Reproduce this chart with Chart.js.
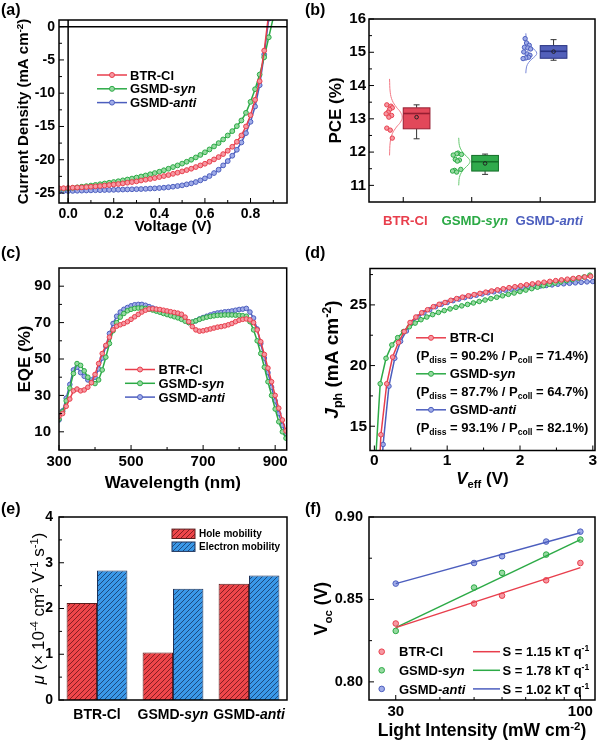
<!DOCTYPE html>
<html>
<head>
<meta charset="utf-8">
<script src="https://cdn.jsdelivr.net/npm/chart.js@4.4.0/dist/chart.umd.min.js"></script>
<style>
body { margin: 0; background: #fff; }
#fig { position: relative; width: 600px; height: 741px; overflow: hidden; background: #fff; }
#fig canvas { position: absolute; }
.lab { position: absolute; font: bold 16px "Liberation Sans", Arial, sans-serif; line-height: 16px; color: #000; }
</style>
</head>
<body>
<div id="fig">
<canvas id="cA" width="300" height="247" style="left:0;top:0"></canvas>
<canvas id="cB" width="300" height="247" style="left:300px;top:0"></canvas>
<canvas id="cC" width="300" height="247" style="left:0;top:247px"></canvas>
<canvas id="cD" width="300" height="247" style="left:300px;top:247px"></canvas>
<canvas id="cE" width="300" height="247" style="left:0;top:494px"></canvas>
<canvas id="cF" width="300" height="247" style="left:300px;top:494px"></canvas>
<div class="lab" style="left:1px;top:2px">(a)</div>
<div class="lab" style="left:305px;top:2px">(b)</div>
<div class="lab" style="left:1px;top:245px">(c)</div>
<div class="lab" style="left:305px;top:245px">(d)</div>
<div class="lab" style="left:1px;top:501px">(e)</div>
<div class="lab" style="left:305px;top:501px">(f)</div>
</div>
<script>
// ---------- (a) curvas J-V ----------
var voltaje = [-0.04,-0.02,0,0.02,0.04,0.06,0.08,0.1,0.12,0.14,0.16,0.18,0.2,0.22,0.24,0.26,0.28,0.3,0.32,0.34,0.36,0.38,0.4,0.42,0.44,0.46,0.48,0.5,0.52,0.54,0.56,0.58,0.6,0.62,0.64,0.66,0.68,0.7,0.72,0.74,0.76,0.78,0.8,0.82,0.84,0.86,0.88,0.9];
var jBTR = [-24.3,-24.28,-24.25,-24.2,-24.18,-24.15,-24.1,-24.05,-24.0,-23.95,-23.88,-23.8,-23.72,-23.65,-23.55,-23.45,-23.35,-23.25,-23.12,-23.0,-22.88,-22.75,-22.6,-22.45,-22.3,-22.12,-21.95,-21.75,-21.55,-21.35,-21.1,-20.85,-20.6,-20.3,-19.95,-19.6,-19.15,-18.65,-18.05,-17.3,-16.35,-15.0,-13.3,-11.0,-8.2,-3.6,2.0];
var jSyn = [-24.4,-24.35,-24.3,-24.22,-24.15,-24.05,-23.97,-23.88,-23.78,-23.68,-23.57,-23.46,-23.35,-23.23,-23.1,-22.97,-22.83,-22.68,-22.52,-22.36,-22.18,-22.0,-21.8,-21.58,-21.35,-21.1,-20.85,-20.58,-20.3,-20.0,-19.65,-19.28,-18.88,-18.45,-18.0,-17.5,-16.95,-16.35,-15.7,-14.95,-14.1,-12.95,-11.3,-9.4,-7.2,-4.6,-1.6,1.4];
var jAnti = [-24.75,-24.72,-24.7,-24.68,-24.66,-24.64,-24.62,-24.6,-24.58,-24.57,-24.55,-24.53,-24.52,-24.5,-24.48,-24.46,-24.44,-24.42,-24.4,-24.37,-24.33,-24.3,-24.25,-24.2,-24.13,-24.05,-23.95,-23.85,-23.7,-23.55,-23.35,-23.1,-22.8,-22.45,-22.0,-21.5,-20.85,-20.2,-19.4,-18.5,-17.4,-16.0,-14.3,-12.0,-8.8,-4.2,1.2];
var ticksV = [0, 0.2, 0.4, 0.6, 0.8];
var ticksVmen = [0.1, 0.3, 0.5, 0.7, 0.9];
var ticksJ = [-25, -20, -15, -10, -5, 0];
var ticksJmen = [-22.5, -17.5, -12.5, -7.5, -2.5];

// ---------- (b) PCE ----------
var categorias = [1, 2, 3];
var pceBTRx = [0.76,0.82,0.84,0.8,0.78,0.75,0.83,0.79,0.76,0.81,0.84];
var pceBTR = [13.42,13.38,13.33,13.28,13.2,13.15,13.1,13.05,12.72,12.66,12.42];
var pceSynx = [1.8,1.78,1.85,1.73,1.76,1.82,1.79,1.84,1.75,1.72,1.78];
var pceSyn = [11.97,11.95,11.93,11.91,11.78,11.76,11.73,11.48,11.45,11.43,11.4];
var pceAntix = [2.78,2.8,2.84,2.77,2.82,2.86,2.76,2.81,2.85,2.83,2.79,2.75];
var pceAnti = [15.41,15.28,15.21,15.15,15.13,15.1,15.01,14.95,14.91,14.85,14.83,14.81];
var curvaBTRx = [0.8,0.81,0.84,0.9,0.96,0.985,0.96,0.9,0.84,0.81,0.8];
var curvaBTR = [14.2,13.8,13.55,13.35,13.2,13.05,12.9,12.75,12.55,12.3,11.9];
var curvaSynx = [1.81,1.82,1.85,1.9,1.95,1.975,1.95,1.9,1.85,1.82,1.81];
var curvaSyn = [12.43,12.2,12.05,11.92,11.82,11.72,11.62,11.52,11.39,11.24,11.0];
var curvaAntix = [2.79,2.8,2.83,2.88,2.93,2.95,2.93,2.88,2.83,2.8,2.79];
var curvaAnti = [15.57,15.38,15.25,15.14,15.05,14.97,14.89,14.8,14.69,14.56,14.37];
var cajaQ1 = [12.7, 11.43, 14.82];
var cajaQ3 = [13.33, 11.9, 15.2];
var cajaMediana = [13.16, 11.71, 15.03];
var cajaMedia = [13.05, 11.66, 15.02];
var cajaMin = [12.4, 11.33, 14.76];
var cajaMax = [13.42, 11.94, 15.38];
var ticksPCE = [11, 12, 13, 14, 15, 16];
var ticksPCEmen = [11.5, 12.5, 13.5, 14.5, 15.5];

// ---------- (c) EQE ----------
var longOnda = [300,310,320,330,340,350,360,370,380,390,400,410,420,430,440,450,460,470,480,490,500,510,520,530,540,550,560,570,580,590,600,610,620,630,640,650,660,670,680,690,700,710,720,730,740,750,760,770,780,790,800,810,820,830,840,850,860,870,880,890,900,910,920,930];
var eqeBTR = [18.5,20,24,28,32.5,33.5,32.5,33,34.5,37,
  41.5,47.5,53,57.5,62,66,68,68.8,69.5,70.5,
  71.8,73.2,74.5,75.8,76.8,77.5,77.6,77.4,77.2,76.8,
  76.4,76,75.6,75.2,74.6,73,70.5,67.8,66,65.3,
  65.5,66,66.5,67,67.5,67.8,68.2,68.8,69.5,70.5,
  71.3,71.8,72,71.5,70,66,59.5,52.5,45,37.5,
  30,23,16.5,10.5];
var eqeSyn = [17,21,27,34,42,47.5,46.5,43.5,40,37,
  36.5,38.5,44,51,58.5,65.5,70,73,75,76.5,
  77.3,77.8,78,78,77.8,77.4,76.9,76.3,75.7,75,
  74.4,73.8,73.2,72.6,71.8,70.8,70,70.3,71,71.8,
  72.5,73,73.4,73.7,74,74.1,74.2,74.2,74.2,74.1,
  74,73.8,73.5,70.5,66,60,53,45.5,37.5,30,
  22.5,15.5,10,6.5];
var eqeAnti = [16.5,21.5,28.5,36,44,45.5,42.5,40.5,38.5,38.5,
  40,44.5,50.5,57,64,69.5,73.5,75.8,77.3,78.3,
  79.2,79.8,80,80,79.5,78.8,78,77.3,76.6,75.9,
  75.2,74.5,73.8,73,72.2,71.2,70,70.2,71,72,
  72.8,73.5,74.2,74.8,75.3,75.6,75.9,76.1,76.4,76.8,
  77.2,77.4,77.8,75.8,72.5,66.5,58.5,50.5,42.5,34.5,
  27,20,13.5,9];
var ticksOnda = [300, 500, 700, 900];
var ticksOndaMen = [400, 600, 800];
var ticksEQE = [10, 30, 50, 70, 90];
var ticksEQEmen = [20, 40, 60, 80];

// ---------- (d) Jph - Veff ----------
var vefBTR = [0.06,0.09,0.17,0.25,0.33,0.41,0.49,0.57,0.65,0.73,0.81,0.89,0.97,1.05,1.13,1.21,1.29,1.37,1.45,1.53,1.61,1.69,1.77,1.85,1.93,2.01,2.09,2.17,2.25,2.33,2.41,2.49,2.57,2.65,2.73,2.81,2.89,2.97];
var jphBTR = [10.5,14.3,18.5,20.7,21.9,22.8,23.55,24.0,24.35,24.6,24.85,25.05,25.2,25.38,25.52,25.64,25.75,25.85,25.95,26.05,26.15,26.24,26.33,26.42,26.5,26.58,26.66,26.73,26.8,26.87,26.94,27.0,27.06,27.12,27.18,27.24,27.3,27.36];
var vefSyn = [0.01,0.08,0.16,0.24,0.32,0.4,0.48,0.56,0.64,0.72,0.8,0.88,0.96,1.04,1.12,1.2,1.28,1.36,1.44,1.52,1.6,1.68,1.76,1.84,1.92,2.0,2.08,2.16,2.24,2.32,2.4,2.48,2.56,2.64,2.72,2.8,2.88,2.96];
var jphSyn = [11.5,18.5,20.6,21.7,22.3,22.8,23.2,23.5,23.78,24.0,24.2,24.38,24.53,24.67,24.8,24.92,25.04,25.16,25.28,25.4,25.52,25.63,25.75,25.87,25.98,26.1,26.22,26.34,26.46,26.58,26.7,26.8,26.9,27.0,27.1,27.2,27.3,27.45];
var vefAnti = [0.08,0.12,0.2,0.28,0.36,0.44,0.52,0.6,0.68,0.76,0.84,0.92,1.0,1.08,1.16,1.24,1.32,1.4,1.48,1.56,1.64,1.72,1.8,1.88,1.96,2.04,2.12,2.2,2.28,2.36,2.44,2.52,2.6,2.68,2.76,2.84,2.92,3.0];
var jphAnti = [9,13.5,18.3,20.6,22.0,22.85,23.55,24.0,24.35,24.6,24.85,25.05,25.2,25.35,25.48,25.6,25.7,25.8,25.9,26.0,26.08,26.15,26.22,26.3,26.37,26.43,26.48,26.52,26.56,26.6,26.65,26.7,26.74,26.78,26.82,26.86,26.9,26.93];
var ticksVef = [0, 1, 2, 3];
var ticksVefMen = [0.5, 1.5, 2.5];
var ticksJph = [15, 20, 25];
var ticksJphMen = [17.5, 22.5, 27.5];

// ---------- (e) movilidades ----------
var muestras = ['BTR-Cl', 'GSMD-syn', 'GSMD-anti'];
var movHuecos = [2.12, 1.04, 2.54];
var movElectrones = [2.83, 2.43, 2.72];
var ticksMov = [0, 1, 2, 3, 4];
var ticksMovMen = [0.5, 1.5, 2.5, 3.5];

// ---------- (f) Voc - intensidad ----------
var intensidad = [30, 50, 60, 80, 100];
var vocBTR = [0.8354, 0.8475, 0.8523, 0.8616, 0.8721];
var vocSyn = [0.8309, 0.8572, 0.8661, 0.8772, 0.8863];
var vocAnti = [0.8596, 0.8721, 0.8762, 0.8851, 0.8911];
var ajusteX = [30, 100];
var ajusteBTR = [0.8329, 0.8693];
var ajusteSyn = [0.8329, 0.8863];
var ajusteAnti = [0.8596, 0.8905];
var pendientes = ['1.15', '1.78', '1.02'];
var ticksInt = [30, 100];
var ticksIntMen = [40, 50, 60, 70, 80, 90];
var ticksVoc = [0.8, 0.85, 0.9];
var ticksVocMen = [0.825, 0.875];

// ---------- estilos ----------
var FUENTE = '"Liberation Sans", Arial, Helvetica, sans-serif';
var ROJO = 'rgb(232,62,76)', VERDE = 'rgb(44,170,70)', AZUL = 'rgb(76,94,190)';
var ROJO_C = 'rgb(246,152,162)', VERDE_C = 'rgb(150,218,160)', AZUL_C = 'rgb(160,172,232)';
Chart.defaults.font.family = FUENTE;
Chart.defaults.color = '#000';

function T(t, o) { var p = { t: t }; if (o) for (var k in o) p[k] = o[k]; return p; }
var SUP = { sup: true }, SUB = { sub: true }, IT = { it: true };

function fuente(p, size) {
  var s = (p.sup || p.sub) ? size * 0.66 : size;
  return (p.it ? 'italic ' : '') + (p.w || 'bold') + ' ' + s + 'px ' + FUENTE;
}

/* dibuja texto con partes en cursiva, subindice o superindice */
function textoRico(ctx, partes, x, y, size, alin, rot, color) {
  ctx.save();
  ctx.translate(x, y);
  if (rot) ctx.rotate(-Math.PI / 2);
  var w = 0;
  partes.forEach(function (p) { ctx.font = fuente(p, size); w += ctx.measureText(p.t).width; });
  var cx = alin === 'left' ? 0 : -w / 2;
  ctx.textBaseline = 'alphabetic';
  ctx.textAlign = 'left';
  partes.forEach(function (p) {
    ctx.font = fuente(p, size);
    ctx.fillStyle = p.c || color || '#000';
    var dy = p.sup ? -size * 0.38 : (p.sub ? size * 0.24 : 0);
    ctx.fillText(p.t, cx, size * 0.36 + dy);
    cx += ctx.measureText(p.t).width;
  });
  ctx.restore();
}

function puntos(xs, ys) { return ys.map(function (y, i) { return { x: xs[i], y: y }; }); }

function serie(xs, ys, col, colC, r, linea) {
  return {
    data: puntos(xs, ys), showLine: linea !== false,
    borderColor: col, backgroundColor: colC, borderWidth: 1.5,
    pointRadius: r, pointBorderWidth: 1, pointBorderColor: col, pointBackgroundColor: colC,
    tension: 0
  };
}

function escala(o) {
  return {
    type: o.type || 'linear',
    min: o.min, max: o.max,
    offset: !!o.offset,
    grid: { display: false, drawTicks: false },
    border: { display: false },
    ticks: {
      display: o.etiquetas !== false,
      padding: o.pad || 0,
      color: '#000',
      font: { family: FUENTE, size: o.size || 14, weight: 'bold' },
      maxRotation: 0, autoSkip: false,
      callback: o.fmt || function (v) { return String(v); }
    },
    afterBuildTicks: function (s) {
      if (o.valores) s.ticks = o.valores.map(function (v) { return { value: v }; });
    },
    afterFit: function (s) {
      if (s.isHorizontal()) s.height = o.tam; else s.width = o.tam;
      s.paddingLeft = 0; s.paddingRight = 0; s.paddingTop = 0; s.paddingBottom = 0;
    }
  };
}

function base(pad, escalas) {
  return {
    responsive: false, animation: false, devicePixelRatio: 1, events: [],
    layout: { padding: { top: pad[0], right: pad[1], left: 0, bottom: 0 } },
    plugins: { legend: { display: false }, tooltip: { enabled: false } },
    scales: escalas
  };
}

/* marco del grafico con marcas hacia dentro */
function marco(cfg) {
  return {
    id: 'marco',
    afterDatasetsDraw: function (chart) {
      var ctx = chart.ctx, a = chart.chartArea, sx = chart.scales.x, sy = chart.scales.y;
      ctx.save();
      ctx.strokeStyle = '#000';
      ctx.lineWidth = 1;
      ctx.beginPath();
      function mx(vals, l) { (vals || []).forEach(function (v) { var p = sx.getPixelForValue(v); ctx.moveTo(p, a.bottom); ctx.lineTo(p, a.bottom - l); }); }
      function my(vals, l) { (vals || []).forEach(function (v) { var p = sy.getPixelForValue(v); ctx.moveTo(a.left, p); ctx.lineTo(a.left + l, p); }); }
      mx(cfg.xMay, 5); mx(cfg.xMen, 3); my(cfg.yMay, 5); my(cfg.yMen, 3);
      ctx.stroke();
      if (cfg.ceros) {
        ctx.lineWidth = 1.5;
        ctx.beginPath();
        var px = sx.getPixelForValue(0), py = sy.getPixelForValue(0);
        ctx.moveTo(px, a.top); ctx.lineTo(px, a.bottom);
        ctx.moveTo(a.left, py); ctx.lineTo(a.right, py);
        ctx.stroke();
      }
      ctx.lineWidth = 1.5;
      ctx.strokeRect(a.left, a.top, a.right - a.left, a.bottom - a.top);
      ctx.restore();
    }
  };
}

function titulos(cfg) {
  return {
    id: 'titulos',
    afterDraw: function (chart) {
      var ctx = chart.ctx, a = chart.chartArea;
      if (cfg.x) textoRico(ctx, cfg.x, (a.left + a.right) / 2, cfg.xPos, cfg.xTam, 'center', false);
      if (cfg.y) textoRico(ctx, cfg.y, cfg.yPos, (a.top + a.bottom) / 2, cfg.yTam, 'center', true);
    }
  };
}

function muestraLinea(ctx, x0, x1, y, col, colC, conPunto) {
  ctx.save();
  ctx.strokeStyle = col; ctx.lineWidth = 1.5;
  ctx.beginPath(); ctx.moveTo(x0, y); ctx.lineTo(x1, y); ctx.stroke();
  if (conPunto) {
    ctx.beginPath(); ctx.arc((x0 + x1) / 2, y, 2.5, 0, Math.PI * 2);
    ctx.fillStyle = colC; ctx.fill(); ctx.lineWidth = 1; ctx.stroke();
  }
  ctx.restore();
}

var nombresRico = [[T('BTR-Cl')], [T('GSMD-'), T('syn', IT)], [T('GSMD-'), T('anti', IT)]];
var colores = [[ROJO, ROJO_C], [VERDE, VERDE_C], [AZUL, AZUL_C]];

// ---------- (a) ----------
new Chart(document.getElementById('cA'), {
  type: 'scatter',
  data: { datasets: [
    serie(voltaje, jBTR, ROJO, ROJO_C, 2.4),
    serie(voltaje, jSyn, VERDE, VERDE_C, 2.4),
    serie(voltaje, jAnti, AZUL, AZUL_C, 2.4)
  ] },
  options: base([20, 13], {
    x: escala({ min: -0.04, max: 0.96, valores: ticksV, fmt: function (v) { return v.toFixed(1); }, tam: 44, pad: 3, size: 14 }),
    y: escala({ min: -26.5, max: 1, valores: ticksJ, tam: 59, pad: 4, size: 14 })
  }),
  plugins: [
    marco({ xMay: ticksV, xMen: ticksVmen, yMay: ticksJ, yMen: ticksJmen, ceros: true }),
    titulos({ x: [T('Voltage (V)')], xPos: 226, xTam: 15, y: [T('Current Density (mA cm'), T('-2', SUP), T(')')], yPos: 23, yTam: 15 }),
    { id: 'leyA', afterDraw: function (c) {
      nombresRico.forEach(function (n, i) {
        var y = 75 + i * 13.8;
        muestraLinea(c.ctx, 97, 127, y, colores[i][0], colores[i][1], true);
        textoRico(c.ctx, n, 130, y, 13, 'left', false, '#000');
      });
    } }
  ]
});

// ---------- (b) ----------
var ctxB = document.getElementById('cB').getContext('2d');
function curva(xs, ys, col) {
  return { data: puntos(xs, ys), showLine: true, borderColor: col, borderWidth: 1, pointRadius: 0, tension: 0.4 };
}
var corrimientoNombre = [2, 3, 9];
new Chart(ctxB, {
  type: 'scatter',
  data: { datasets: [
    serie(pceBTRx, pceBTR, ROJO, ROJO_C, 2.2, false),
    serie(pceSynx, pceSyn, VERDE, VERDE_C, 2.2, false),
    serie(pceAntix, pceAnti, AZUL, AZUL_C, 2.2, false),
    curva(curvaBTRx, curvaBTR, 'rgb(242,120,132)'),
    curva(curvaSynx, curvaSyn, 'rgb(100,200,110)'),
    curva(curvaAntix, curvaAnti, 'rgb(120,135,215)')
  ] },
  options: base([19, 3], {
    x: escala({ min: 0.5, max: 3.8, valores: categorias, etiquetas: false, tam: 45 }),
    y: escala({ min: 10.5, max: 16, valores: ticksPCE, tam: 69, pad: 3, size: 15 })
  }),
  plugins: [
    { id: 'cajas', afterDatasetsDraw: function (c) {
      var ctx = c.ctx, sx = c.scales.x, sy = c.scales.y;
      var rellenos = ['rgb(226,72,90)', 'rgb(48,170,76)', 'rgb(82,96,186)'];
      var bordes = ['rgb(150,30,50)', 'rgb(20,110,40)', 'rgb(40,50,130)'];
      ctx.save();
      categorias.forEach(function (cat, i) {
        var x0 = sx.getPixelForValue(cat), x1 = sx.getPixelForValue(cat + 0.39), xm = (x0 + x1) / 2;
        var yq1 = sy.getPixelForValue(cajaQ1[i]), yq3 = sy.getPixelForValue(cajaQ3[i]);
        ctx.strokeStyle = '#333'; ctx.lineWidth = 1;
        ctx.beginPath();
        ctx.moveTo(xm, yq3); ctx.lineTo(xm, sy.getPixelForValue(cajaMax[i]));
        ctx.moveTo(xm - 3, sy.getPixelForValue(cajaMax[i])); ctx.lineTo(xm + 3, sy.getPixelForValue(cajaMax[i]));
        ctx.moveTo(xm, yq1); ctx.lineTo(xm, sy.getPixelForValue(cajaMin[i]));
        ctx.moveTo(xm - 3, sy.getPixelForValue(cajaMin[i])); ctx.lineTo(xm + 3, sy.getPixelForValue(cajaMin[i]));
        ctx.stroke();
        ctx.fillStyle = rellenos[i];
        ctx.fillRect(x0, yq3, x1 - x0, yq1 - yq3);
        ctx.strokeStyle = bordes[i];
        ctx.strokeRect(x0, yq3, x1 - x0, yq1 - yq3);
        ctx.lineWidth = 1.6;
        ctx.beginPath();
        var ym = sy.getPixelForValue(cajaMediana[i]);
        ctx.moveTo(x0, ym); ctx.lineTo(x1, ym); ctx.stroke();
        ctx.lineWidth = 1;
        ctx.beginPath(); ctx.arc(xm, sy.getPixelForValue(cajaMedia[i]), 1.8, 0, Math.PI * 2);
        ctx.strokeStyle = '#222'; ctx.stroke();
      });
      ctx.restore();
    } },
    marco({ xMay: categorias, yMay: ticksPCE, yMen: ticksPCEmen }),
    titulos({ y: [T('PCE (%)')], yPos: 35, yTam: 17 }),
    { id: 'nomB', afterDraw: function (c) {
      categorias.forEach(function (cat, i) {
        var partes = nombresRico[i].map(function (p) { return T(p.t, { it: p.it, c: colores[i][0] }); });
        textoRico(c.ctx, partes, c.scales.x.getPixelForValue(cat) + corrimientoNombre[i], 220, 13.2, 'center', false);
      });
    } }
  ]
});

// ---------- (c) ----------
new Chart(document.getElementById('cC'), {
  type: 'scatter',
  data: { datasets: [
    serie(longOnda, eqeBTR, ROJO, ROJO_C, 2.3),
    serie(longOnda, eqeSyn, VERDE, VERDE_C, 2.3),
    serie(longOnda, eqeAnti, AZUL, AZUL_C, 2.3)
  ] },
  options: base([21, 13.3], {
    x: escala({ min: 300, max: 932, valores: ticksOnda, tam: 44, pad: 3, size: 15 }),
    y: escala({ min: 0, max: 100, valores: ticksEQE, tam: 59, pad: 8, size: 15 })
  }),
  plugins: [
    marco({ xMay: ticksOnda, xMen: ticksOndaMen, yMay: ticksEQE, yMen: ticksEQEmen }),
    titulos({ x: [T('Wavelength (nm)')], xPos: 235, xTam: 17, y: [T('EQE (%)')], yPos: 24, yTam: 17 }),
    { id: 'leyC', afterDraw: function (c) {
      nombresRico.forEach(function (n, i) {
        var y = 122.5 + i * 13.8;
        muestraLinea(c.ctx, 125, 155, y, colores[i][0], colores[i][1], true);
        textoRico(c.ctx, n, 158.5, y, 13, 'left', false, '#000');
      });
    } }
  ]
});

// ---------- (d) ----------
var eficiencias = [['90.2%', '71.4%'], ['87.7%', '64.7%'], ['93.1%', '82.1%']];
new Chart(document.getElementById('cD'), {
  type: 'scatter',
  data: { datasets: [
    serie(vefBTR, jphBTR, ROJO, ROJO_C, 2.3),
    serie(vefSyn, jphSyn, VERDE, VERDE_C, 2.3),
    serie(vefAnti, jphAnti, AZUL, AZUL_C, 2.3)
  ] },
  options: base([21.5, 3], {
    x: escala({ min: -0.06, max: 3.03, valores: ticksVef, tam: 43.5, pad: 1, size: 15.5 }),
    y: escala({ min: 13, max: 28, valores: ticksJph, tam: 70, pad: 3, size: 15.5 })
  }),
  plugins: [
    marco({ xMay: ticksVef, xMen: ticksVefMen, yMay: ticksJph, yMen: ticksJphMen }),
    titulos({ x: [T('V', IT), T('eff', SUB), T(' (V)')], xPos: 231, xTam: 17,
      y: [T('J', IT), T('ph', SUB), T(' (mA cm'), T('-2', SUP), T(')')], yPos: 31, yTam: 19 }),
    { id: 'leyD', afterDraw: function (c) {
      nombresRico.forEach(function (n, i) {
        var y = 90.8 + i * 36;
        muestraLinea(c.ctx, 116, 146, y, colores[i][0], colores[i][1], true);
        textoRico(c.ctx, n, 149.7, y, 13, 'left', false, '#000');
        textoRico(c.ctx, [T('(P'), T('diss', SUB), T(' = ' + eficiencias[i][0] + ' / P'), T('coll', SUB), T(' = ' + eficiencias[i][1] + ')')],
          116.3, y + 17.5, 13, 'left', false, '#000');
      });
    } }
  ]
});

// ---------- (e) ----------
var ctxE = document.getElementById('cE').getContext('2d');
function trama(fondo, raya) {
  var t = document.createElement('canvas');
  t.width = 5; t.height = 5;
  var g = t.getContext('2d');
  g.fillStyle = fondo; g.fillRect(0, 0, 5, 5);
  g.strokeStyle = raya; g.lineWidth = 0.9;
  g.beginPath();
  g.moveTo(0, 5); g.lineTo(5, 0);
  g.moveTo(-1, 1); g.lineTo(1, -1);
  g.moveTo(4, 6); g.lineTo(6, 4);
  g.stroke();
  return ctxE.createPattern(t, 'repeat');
}
var tramaRoja = trama('rgb(238,70,74)', 'rgb(120,25,30)');
var tramaAzul = trama('rgb(58,152,232)', 'rgb(25,65,115)');
new Chart(ctxE, {
  type: 'bar',
  data: { labels: muestras, datasets: [
    { data: movHuecos, backgroundColor: tramaRoja, borderColor: 'rgb(90,30,30)', borderWidth: 1, categoryPercentage: 0.8, barPercentage: 1 },
    { data: movElectrones, backgroundColor: tramaAzul, borderColor: 'rgb(30,50,90)', borderWidth: 1, categoryPercentage: 0.8, barPercentage: 1 }
  ] },
  options: base([23, 13], {
    x: escala({ type: 'category', offset: true, etiquetas: false, tam: 41 }),
    y: escala({ min: 0, max: 4, valores: ticksMov, tam: 59, pad: 6, size: 14 })
  }),
  plugins: [
    marco({ yMay: ticksMov, yMen: ticksMovMen }),
    titulos({ y: [T('\u03bc', { it: true, w: 'normal' }), T(' (\u00d7 10', { w: 'normal' }), T('-4', { sup: true, w: 'normal' }),
      T(' cm', { w: 'normal' }), T('2', { sup: true, w: 'normal' }), T(' V', { w: 'normal' }), T('-1', { sup: true, w: 'normal' }),
      T(' s', { w: 'normal' }), T('-1', { sup: true, w: 'normal' }), T(')', { w: 'normal' })], yPos: 38, yTam: 17 }),
    { id: 'leyE', afterDraw: function (c) {
      var ctx = c.ctx;
      [[tramaRoja, 'rgb(90,30,30)', 'Hole mobility'], [tramaAzul, 'rgb(30,50,90)', 'Electron mobility']].forEach(function (f, i) {
        var y = 39.8 + i * 12.9;
        ctx.save();
        ctx.fillStyle = f[0]; ctx.fillRect(172, y - 4.7, 23, 9.4);
        ctx.strokeStyle = f[1]; ctx.lineWidth = 1; ctx.strokeRect(172, y - 4.7, 23, 9.4);
        ctx.restore();
        textoRico(ctx, [T(f[2])], 199, y, 10, 'left', false, '#000');
      });
      muestras.forEach(function (m, i) {
        textoRico(ctx, nombresRico[i], c.scales.x.getPixelForValue(i), 220, 14, 'center', false, '#000');
      });
    } }
  ]
});

// ---------- (f) ----------
function ajuste(ys, col) {
  return { data: puntos(ajusteX, ys), showLine: true, borderColor: col, borderWidth: 1.5, pointRadius: 0 };
}
new Chart(document.getElementById('cF'), {
  type: 'scatter',
  data: { datasets: [
    ajuste(ajusteBTR, ROJO), ajuste(ajusteSyn, VERDE), ajuste(ajusteAnti, AZUL),
    serie(intensidad, vocBTR, ROJO, ROJO_C, 2.8, false),
    serie(intensidad, vocSyn, VERDE, VERDE_C, 2.8, false),
    serie(intensidad, vocAnti, AZUL, AZUL_C, 2.8, false)
  ] },
  options: base([23, 3.5], {
    x: escala({ type: 'logarithmic', min: 25.2, max: 110, valores: ticksInt, tam: 41, pad: 3, size: 15 }),
    y: escala({ min: 0.789, max: 0.9, valores: ticksVoc, fmt: function (v) { return v.toFixed(2); }, tam: 69, pad: 6, size: 14.5 })
  }),
  plugins: [
    marco({ xMay: ticksInt, xMen: ticksIntMen, yMay: ticksVoc, yMen: ticksVocMen }),
    titulos({ x: [T('Light Intensity (mW cm'), T('-2', SUP), T(')')], xPos: 236, xTam: 17.5,
      y: [T('V'), T('oc', SUB), T(' (V)')], yPos: 21, yTam: 17.5 }),
    { id: 'leyF', afterDraw: function (c) {
      var ctx = c.ctx;
      nombresRico.forEach(function (n, i) {
        var y = 157.7 + i * 18.6;
        ctx.save();
        ctx.beginPath(); ctx.arc(81.7, y, 2.8, 0, Math.PI * 2);
        ctx.fillStyle = colores[i][1]; ctx.fill();
        ctx.strokeStyle = colores[i][0]; ctx.lineWidth = 1; ctx.stroke();
        ctx.restore();
        textoRico(ctx, n, 99, y, 13, 'left', false, '#000');
        muestraLinea(ctx, 173, 200, y, colores[i][0], colores[i][1], false);
        textoRico(ctx, [T('S = ' + pendientes[i] + ' kT q'), T('-1', SUP)], 202.5, y, 13, 'left', false, '#000');
      });
    } }
  ]
});
</script>
</body>
</html>
